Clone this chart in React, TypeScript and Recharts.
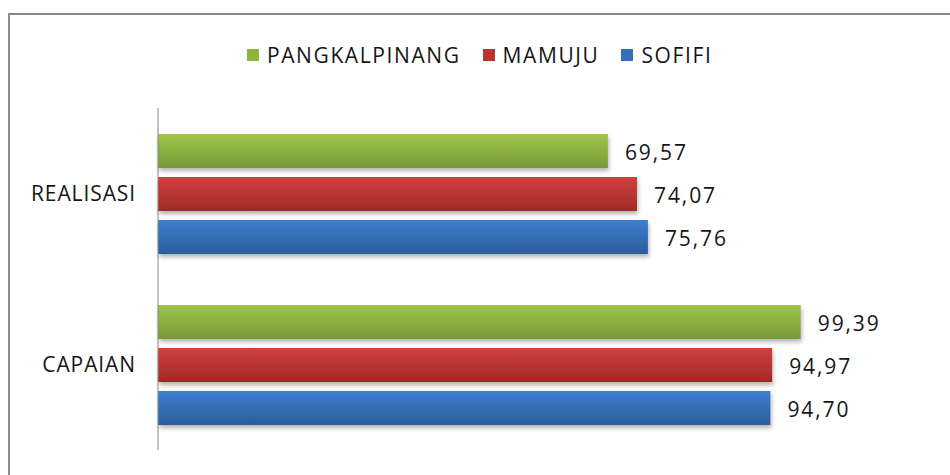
import { Bar, BarChart, LabelList, XAxis, YAxis } from "recharts";

const categories = ["REALISASI", "CAPAIAN"];
const pangkalpinang = [69.57, 99.39];
const mamuju = [74.07, 94.97];
const sofifi = [75.76, 94.7];

const seriesNames = ["PANGKALPINANG", "MAMUJU", "SOFIFI"];
const seriesKeys = ["pangkalpinang", "mamuju", "sofifi"];
const gradientIds = ["gradGreen", "gradRed", "gradBlue"];
const squareColors = ["#8DB43F", "#B9332F", "#3670B8"];

const data = categories.map((name, i) => ({
  name,
  pangkalpinang: pangkalpinang[i],
  mamuju: mamuju[i],
  sofifi: sofifi[i],
}));

const FONT = "'Open Sans', 'Liberation Sans', sans-serif";
const TEXT = "#161616";

function BarShape(props: any) {
  const { x, y, width, height, gradient } = props;
  if (width <= 0) return null;
  return (
    <rect
      x={x}
      y={y}
      width={width}
      height={height}
      fill={`url(#${gradient})`}
      filter="url(#barShadow)"
    />
  );
}

function ValueLabel(props: any) {
  const { x, y, width, height, value } = props;
  return (
    <text
      x={x + width + 17}
      y={y + height / 2 + 1}
      dominantBaseline="central"
      fontFamily={FONT}
      fontSize={21}
      letterSpacing={1.9}
      fill={TEXT}
    >
      {Number(value).toFixed(2).replace(".", ",")}
    </text>
  );
}

function ChartLegend() {
  return (
    <div
      style={{
        position: "absolute",
        left: 247,
        top: 44,
        display: "flex",
        alignItems: "center",
        fontFamily: FONT,
      }}
    >
      {seriesNames.map((name, i) => (
        <div
          key={name}
          style={{ display: "flex", alignItems: "center", marginRight: i < 2 ? 22 : 0 }}
        >
          <div
            style={{
              width: 12,
              height: 12,
              background: squareColors[i],
              marginRight: 8,
            }}
          />
          <span style={{ fontSize: 21, letterSpacing: 1.6, color: TEXT, lineHeight: "22px" }}>
            {name}
          </span>
        </div>
      ))}
    </div>
  );
}

export default function App() {
  return (
    <div
      style={{
        position: "absolute",
        left: 0,
        top: 0,
        width: 950,
        height: 475,
        overflow: "hidden",
        background: "#fff",
      }}
    >
      <div
        style={{
          position: "absolute",
          left: 8,
          top: 13,
          width: 960,
          height: 480,
          borderTop: "2px solid #8a8a8a",
          borderLeft: "2px solid #8a8a8a",
          boxSizing: "border-box",
        }}
      />
      <ChartLegend />
      <div style={{ position: "absolute", left: 0, top: 0 }}>
        <BarChart
          width={950}
          height={475}
          data={data}
          layout="vertical"
          margin={{ top: 108, right: 16, left: 8, bottom: 25 }}
          barSize={34}
          barGap={9}
        >
          <defs>
            <linearGradient id="gradGreen" x1="0" y1="0" x2="0" y2="1">
              <stop offset="0%" stopColor="#9DC64B" />
              <stop offset="100%" stopColor="#779937" />
            </linearGradient>
            <linearGradient id="gradRed" x1="0" y1="0" x2="0" y2="1">
              <stop offset="0%" stopColor="#D0403E" />
              <stop offset="100%" stopColor="#A02A28" />
            </linearGradient>
            <linearGradient id="gradBlue" x1="0" y1="0" x2="0" y2="1">
              <stop offset="0%" stopColor="#3D7ED0" />
              <stop offset="100%" stopColor="#2C5D9B" />
            </linearGradient>
            <filter id="barShadow" x="-5%" y="-20%" width="115%" height="160%">
              <feDropShadow dx="1" dy="3" stdDeviation="2" floodColor="#000" floodOpacity="0.3" />
            </filter>
          </defs>
          <XAxis type="number" domain={[0, 120]} hide />
          <YAxis
            type="category"
            dataKey="name"
            width={150}
            tickLine={false}
            tickSize={6}
            tickMargin={16}
            axisLine={{ stroke: "#868686", strokeWidth: 1 }}
            tick={{ fontSize: 21, fill: TEXT, fontFamily: FONT, letterSpacing: 0.9 }}
          />
          {seriesKeys.map((key, i) => (
            <Bar
              key={key}
              dataKey={key}
              name={seriesNames[i]}
              fill={squareColors[i]}
              isAnimationActive={false}
              shape={(p: any) => <BarShape {...p} gradient={gradientIds[i]} />}
            >
              <LabelList dataKey={key} content={<ValueLabel />} />
            </Bar>
          ))}
        </BarChart>
      </div>
    </div>
  );
}
